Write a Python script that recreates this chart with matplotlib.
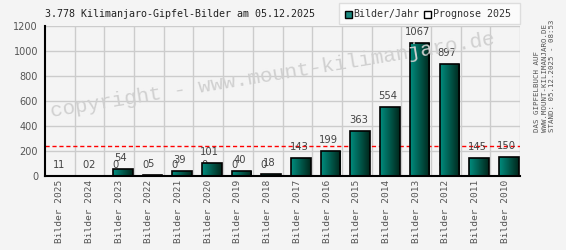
import matplotlib
matplotlib.use("Agg")
import matplotlib.pyplot as plt
import numpy as np
from matplotlib.colors import LinearSegmentedColormap
from matplotlib.patches import Rectangle

# ---- data ----
years = ["2025", "2024", "2023", "2022", "2021", "2020", "2019", "2018",
         "2017", "2016", "2015", "2014", "2013", "2012", "2011", "2010"]
bilder = [1, 2, 54, 5, 39, 101, 40, 18, 143, 199, 363, 554, 1067, 897, 145, 150]
prognose = [1, 0, 0, 0, 0, 0, 0, 0, 0, 0, 0, 0, 0, 0, 0, 0]
tick_labels = ["Bilder " + y for y in years]
title = "3.778 Kilimanjaro-Gipfel-Bilder am 05.12.2025"
legend_labels = ["Bilder/Jahr", "Prognose 2025"]
side_lines = ["DAS GIPFELBUCH AUF", "WWW.MOUNT-KILIMANJARO.DE", "STAND: 05.12.2025 - 08:53"]
watermark = "copyright - www.mount-kilimanjaro.de"

W, H = 566, 250
BG = "#f4f4f4"
fig = plt.figure(figsize=(W / 100, H / 100), dpi=100, facecolor=BG)

def px(x, y):
    return x / W, 1 - y / H

ax_l, ax_r, ax_t, ax_b = 45, 520, 26, 176
ax = fig.add_axes([ax_l / W, 1 - ax_b / H, (ax_r - ax_l) / W, (ax_b - ax_t) / H])
ax.set_facecolor(BG)

n = len(years)
x = np.arange(n)

# grid
for b in np.arange(0.5, n, 1.0):
    ax.axvline(b, color="#cccccc", lw=1, zorder=0)
for yv in range(200, 1201, 200):
    ax.axhline(yv, color="#cccccc", lw=1, zorder=0)

for s in ["top", "right"]:
    ax.spines[s].set_visible(False)
for s in ["left", "bottom"]:
    ax.spines[s].set_color("black")
    ax.spines[s].set_linewidth(1.5)
    ax.spines[s].set_zorder(6)

# average line
avg = sum(bilder) / len(bilder)
ax.axhline(avg, color="red", lw=1, ls=(0, (3, 2)), zorder=1)

cmap = LinearSegmentedColormap.from_list("g", ["#008d7e", "#00261b"])
grad = np.linspace(0, 1, 64).reshape(1, -1)

bw = 0.66
off = 0.12
# prognose bars + labels (behind)
for i, v in enumerate(prognose):
    ax.bar(x[i] - off, v, width=bw, color="white", edgecolor="black", lw=1, zorder=2)
    ax.annotate(str(v), (x[i] - 0.13, v), xytext=(0, 8), textcoords="offset points",
                ha="center", va="center", fontsize=7.2, color="#444444", zorder=2,
                family="DejaVu Sans")

# bilder bars with gradient
for i, v in enumerate(bilder):
    x0 = x[i] + off - bw / 2
    rect = Rectangle((x0, 0), bw, v, facecolor="none", edgecolor="black", lw=1.2, zorder=4)
    ax.add_patch(rect)
    im = ax.imshow(grad, extent=[x0, x0 + bw, 0, v], cmap=cmap, aspect="auto",
                   zorder=3, interpolation="bilinear")
    im.set_clip_path(rect)
    ax.annotate(str(v), (x[i] + 0.05, v), xytext=(0, 8), textcoords="offset points",
                ha="center", va="center", fontsize=7.2, color="#444444", zorder=5,
                family="DejaVu Sans")

ax.set_xlim(-0.5, n - 0.5)
ax.set_ylim(0, 1200)

ax.set_yticks(range(0, 1201, 200))
ax.set_yticklabels([str(v) for v in range(0, 1201, 200)], fontsize=7, color="#555555",
                   family="DejaVu Sans")
ax.set_xticks(x)
ax.set_xticklabels(tick_labels, rotation=90, fontsize=6.8, color="#555555",
                   family="DejaVu Sans Mono", va="top", ha="center")
ax.tick_params(axis="both", length=0)
ax.tick_params(axis="y", pad=5)
ax.tick_params(axis="x", pad=2.5)

# title
fig.text(*px(45, 14), title, fontsize=7.2, family="DejaVu Sans Mono", color="#222222",
         ha="left", va="center")

# legend (manual)
fig.patches.append(Rectangle(px(339, 24), (520 - 339) / W, 21 / H, transform=fig.transFigure,
                             facecolor="#fbfbfb", edgecolor="#dddddd", lw=1))
fig.patches.append(Rectangle(px(345, 17.5), 6.5 / W, 6.5 / H, transform=fig.transFigure,
                             facecolor="#1a8a80", edgecolor="black", lw=1))
fig.text(*px(353, 14), legend_labels[0], fontsize=7.2, family="DejaVu Sans Mono",
         color="#333333", ha="left", va="center")
fig.patches.append(Rectangle(px(424, 17.5), 6.5 / W, 6.5 / H, transform=fig.transFigure,
                             facecolor="white", edgecolor="black", lw=1))
fig.text(*px(433, 14), legend_labels[1], fontsize=7.2, family="DejaVu Sans Mono",
         color="#333333", ha="left", va="center")

# watermark
fig.text(*px(273, 75), watermark, fontsize=15, family="Liberation Mono", color="#d0d0d0",
         rotation=9.3, rotation_mode="anchor", ha="center", va="center", zorder=0.5)

# side text
for j, (line, xc) in enumerate(zip(side_lines, [537.3, 544.7, 552.1])):
    fig.text(*px(xc, 132), line, fontsize=5.3, family="DejaVu Sans Mono", color="#555555",
             rotation=90, ha="center", va="bottom")

fig.savefig("out.png", dpi=100, facecolor=BG)
